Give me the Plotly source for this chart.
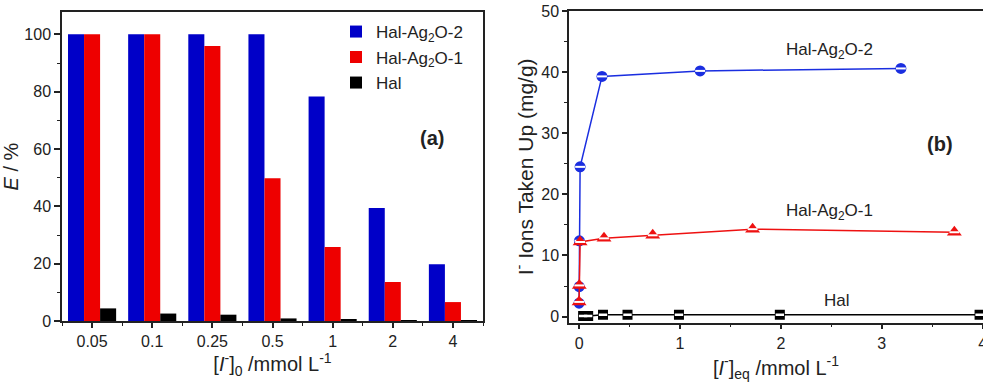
import plotly.graph_objects as go

# ---------- data: panel (a) ----------
categories = ['0.05', '0.1', '0.25', '0.5', '1', '2', '4']
E_ag2o_2 = [100, 100, 100, 100, 78.3, 39.4, 19.8]
E_ag2o_1 = [100, 100, 95.9, 49.8, 25.8, 13.6, 6.6]
E_hal = [4.4, 2.6, 2.2, 0.9, 0.4, 0.1, 0.2]

# ---------- data: panel (b) ----------
ag2_x = [0.0, 0.001, 0.003, 0.01, 0.227, 1.20, 3.19]
ag2_y = [2.2, 4.9, 12.4, 24.5, 39.3, 40.2, 40.6]
ag1_x = [0.0, 0.002, 0.01, 0.247, 0.73, 1.72, 3.72]
ag1_y = [2.4, 5.1, 12.2, 12.8, 13.3, 14.3, 13.8]
hal_x = [0.04, 0.09, 0.237, 0.48, 0.99, 1.99, 3.97]
hal_y = [0.1, 0.1, 0.3, 0.3, 0.3, 0.3, 0.3]

names = ['Hal-Ag<sub>2</sub>O-2', 'Hal-Ag<sub>2</sub>O-1', 'Hal']
BLUE = '#0000c8'
RED = '#ee0000'
BLACK = '#000000'
FONT = 'Arial, Liberation Sans, sans-serif'
AX = '#222222'

W, H = 983, 382
xpos = list(range(len(categories)))

fig = go.Figure()

legends = ['legend', 'legend2', 'legend3']
for vals, nm, col, lg in zip([E_ag2o_2, E_ag2o_1, E_hal], names, [BLUE, RED, BLACK], legends):
    fig.add_trace(go.Bar(x=xpos, y=vals, name=nm, marker=dict(color=col, line=dict(width=0)),
                         xaxis='x', yaxis='y', legend=lg))

# panel (b) lines + markers
def add_series(x, y, col, sym, size, stripe_size, stripe_w):
    fig.add_trace(go.Scatter(x=x, y=y, mode='lines+markers', showlegend=False,
                             line=dict(color=col, width=1.5),
                             marker=dict(symbol=sym, size=size, color=col, line=dict(width=0)),
                             cliponaxis=False, xaxis='x2', yaxis='y2'))
    fig.add_trace(go.Scatter(x=x, y=y, mode='markers', showlegend=False, hoverinfo='skip',
                             marker=dict(symbol='line-ew', size=stripe_size,
                                         line=dict(color='white', width=stripe_w)),
                             cliponaxis=False, xaxis='x2', yaxis='y2'))

add_series(ag2_x, ag2_y, '#1a2ee0', 'circle', 11, 7, 2)
add_series(ag1_x, ag1_y, '#ee1111', 'triangle-up', 13, 7, 2)
add_series(hal_x, hal_y, BLACK, 'square', 10, 6, 2.5)

def px_x(p):
    return p / W

def px_y(p):
    return 1 - p / H

tickfont = dict(family=FONT, size=16, color=AX)
titlefont = dict(family=FONT, size=20, color=AX)

fig.update_layout(
    width=W, height=H,
    margin=dict(l=0, r=0, t=0, b=0),
    paper_bgcolor='white', plot_bgcolor='white',
    barmode='group', bargap=0.2, bargroupgap=0,
    font=dict(family=FONT, color=AX),
    xaxis=dict(domain=[px_x(62), px_x(483)], range=[-0.5, 6.5], automargin=False,
               tickvals=xpos, ticktext=categories,
               showline=True, linecolor=AX, linewidth=1.5, mirror=True,
               ticks='outside', ticklen=5, tickwidth=1.5, tickcolor=AX,
               minor=dict(dtick=0.5, tick0=0.5, ticks='outside', ticklen=3, tickwidth=1.2, tickcolor=AX),
               showgrid=False, zeroline=False, tickfont=tickfont,
               title=dict(text='[<i>I</i><sup>-</sup>]<sub>0</sub> /mmol L<sup>-1</sup>',
                          font=titlefont, standoff=8),
               anchor='y'),
    yaxis=dict(domain=[px_y(321), px_y(12)], range=[0, 107.8], automargin=False,
               tickvals=[0, 20, 40, 60, 80, 100],
               showline=True, linecolor=AX, linewidth=1.5, mirror=True,
               ticks='outside', ticklen=6, tickwidth=1.5, tickcolor=AX,
               minor=dict(dtick=10, ticks='outside', ticklen=3, tickwidth=1.2, tickcolor=AX),
               showgrid=False, zeroline=False, tickfont=tickfont,
               title=dict(text='<i>E</i> / %', font=titlefont, standoff=6),
               anchor='x'),
    xaxis2=dict(domain=[px_x(569), 1.0], range=[-0.1, 4.004], automargin=False,
                tickvals=[0, 1, 2, 3, 4], ticklabeloverflow='allow',
                showline=True, linecolor=AX, linewidth=1.5, mirror=True,
                ticks='outside', ticklen=5, tickwidth=1.5, tickcolor=AX,
                minor=dict(dtick=0.5, ticks='outside', ticklen=3, tickwidth=1.2, tickcolor=AX),
                showgrid=False, zeroline=False, tickfont=tickfont,
                title=dict(text='[<i>I</i><sup>-</sup>]<sub>eq</sub> /mmol L<sup>-1</sup>',
                           font=titlefont, standoff=10),
                anchor='y2'),
    yaxis2=dict(domain=[px_y(322.7), px_y(11)], range=[-1, 50], automargin=False,
                tickvals=[0, 10, 20, 30, 40, 50],
                showline=True, linecolor=AX, linewidth=1.5, mirror=False,
                ticks='outside', ticklen=5, tickwidth=1.5, tickcolor=AX,
                minor=dict(dtick=5, ticks='outside', ticklen=3, tickwidth=1.2, tickcolor=AX),
                showgrid=False, zeroline=False, tickfont=tickfont,
                title=dict(text='I<sup>-</sup> Ions Taken Up (mg/g)',
                           font=dict(family=FONT, size=21, color=AX), standoff=2),
                anchor='x2'),
)

leg_common = dict(xanchor='left', yanchor='middle', bgcolor='rgba(0,0,0,0)',
                  font=dict(family=FONT, size=17, color=AX), borderwidth=0,
                  itemsizing='constant')
fig.update_layout(
    legend=dict(x=px_x(336), y=px_y(32), **leg_common),
    legend2=dict(x=px_x(336), y=px_y(57.5), **leg_common),
    legend3=dict(x=px_x(336), y=px_y(83), **leg_common),
)

ann_font = dict(family=FONT, size=17, color=AX)
annotations = [
    dict(text='<b>(a)</b>', x=px_x(432), y=px_y(138), font=dict(family=FONT, size=20, color=AX)),
    dict(text='<b>(b)</b>', x=px_x(940), y=px_y(144), font=dict(family=FONT, size=20, color=AX)),
    dict(text=names[0], x=px_x(829), y=px_y(51), font=ann_font),
    dict(text=names[1], x=px_x(829), y=px_y(212), font=ann_font),
    dict(text=names[2], x=px_x(837), y=px_y(300), font=ann_font),
]
for a in annotations:
    a.update(xref='paper', yref='paper', showarrow=False, xanchor='center', yanchor='middle')
fig.update_layout(annotations=annotations)

fig.write_html('out.html')
